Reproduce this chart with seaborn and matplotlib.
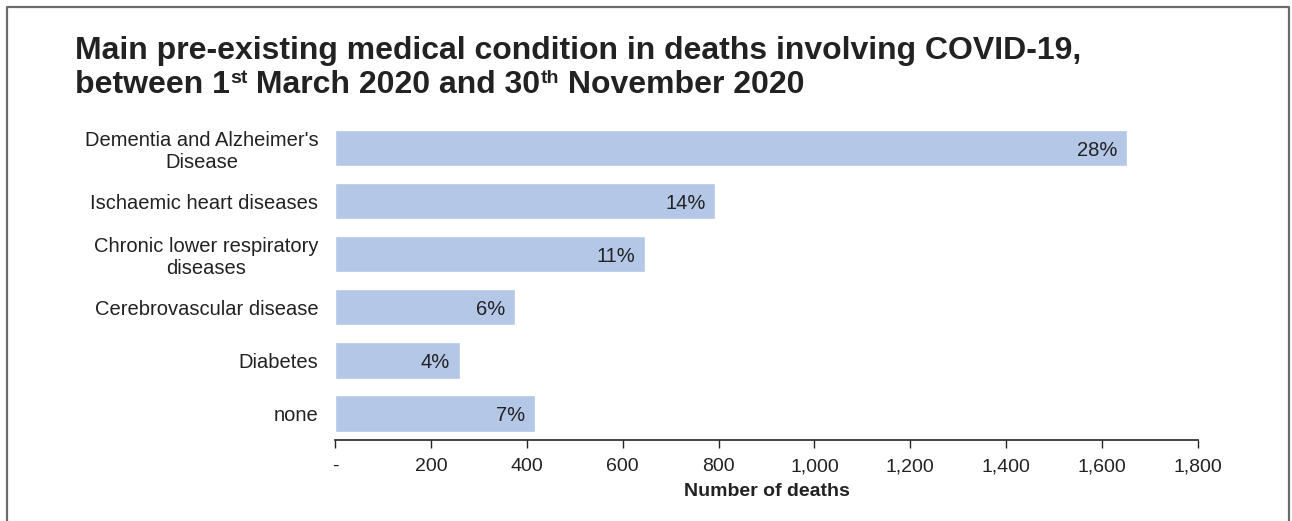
import matplotlib
matplotlib.use("Agg")
import matplotlib.pyplot as plt
import seaborn as sns
import pandas as pd
from matplotlib.ticker import FuncFormatter
from matplotlib.lines import Line2D

conditions = [
    "Dementia and Alzheimer's\nDisease",
    "Ischaemic heart diseases",
    "Chronic lower respiratory\ndiseases",
    "Cerebrovascular disease",
    "Diabetes",
    "none",
]
deaths = [1652, 793, 647, 375, 260, 417]
shares = ["28%", "14%", "11%", "6%", "4%", "7%"]
x_ticks = [0, 200, 400, 600, 800, 1000, 1200, 1400, 1600, 1800]

sns.set_theme(style="white")
plt.rcParams["font.family"] = ["Liberation Sans", "DejaVu Sans"]

df = pd.DataFrame({"condition": conditions, "deaths": deaths})

fig = plt.figure(figsize=(12.92, 5.21), dpi=100)
ax = fig.add_axes([0.2593, 0.1555, 0.6679, 0.6104])

sns.barplot(data=df, x="deaths", y="condition", orient="h", color="#b4c7e7",
            saturation=1, width=0.68, ax=ax)

# share labels inside the right end of each bar
for patch, lab in zip(ax.patches, shares):
    w = patch.get_width()
    yc = patch.get_y() + patch.get_height() / 2
    ax.text(w - 20, yc, lab, ha="right", va="center_baseline", fontsize=14.5, color="#222222")

ax.set_xlim(0, 1800)
ax.set_ylim(5.5, -0.5)
ax.set_xticks(x_ticks)
ax.xaxis.set_major_formatter(FuncFormatter(lambda v, p: "-" if v == 0 else f"{int(v):,}"))
ax.tick_params(axis="x", direction="out", length=6, width=1, color="#222222",
               labelsize=14, labelcolor="#222222", pad=7, bottom=True)
ax.tick_params(axis="y", length=0, labelsize=14.5, labelcolor="#222222", pad=12)
for t in ax.get_yticklabels():
    t.set_multialignment("center")
    t.set_linespacing(1.15)

for s in ["top", "right", "left"]:
    ax.spines[s].set_visible(False)
ax.spines["bottom"].set_color("#222222")
ax.spines["bottom"].set_linewidth(1.2)

ax.set_ylabel("")
ax.set_xlabel("Number of deaths", fontsize=14, fontweight="bold", color="#222222", labelpad=6)

# two-line title with smaller raised ordinal suffixes
title_kw = dict(fontsize=23, fontweight="bold", color="#222222", va="baseline", ha="left")
fig.text(75 / 1292, 1 - 59 / 521, "Main pre-existing medical condition in deaths involving COVID-19,",
         **title_kw)

pieces = [("between 1", False), ("st", True), (" March 2020 and 30", False),
          ("th", True), (" November 2020", False)]
renderer = fig.canvas.get_renderer()
x_px = 75
base_px = 93
for txt, sup in pieces:
    kw = dict(title_kw)
    y_px = base_px
    if sup:
        kw["fontsize"] = 14
        y_px = base_px - 10
    t = fig.text(x_px / 1292, 1 - y_px / 521, txt, **kw)
    x_px += t.get_window_extent(renderer=renderer).width

# frame around the figure (open at the bottom)
frame = Line2D([7 / 1292, 7 / 1292, 1289 / 1292, 1289 / 1292],
               [0, 1 - 7 / 521, 1 - 7 / 521, 0],
               transform=fig.transFigure, color="#6b6b6b", linewidth=1.6)
fig.add_artist(frame)

fig.savefig("out.png", dpi=100)
